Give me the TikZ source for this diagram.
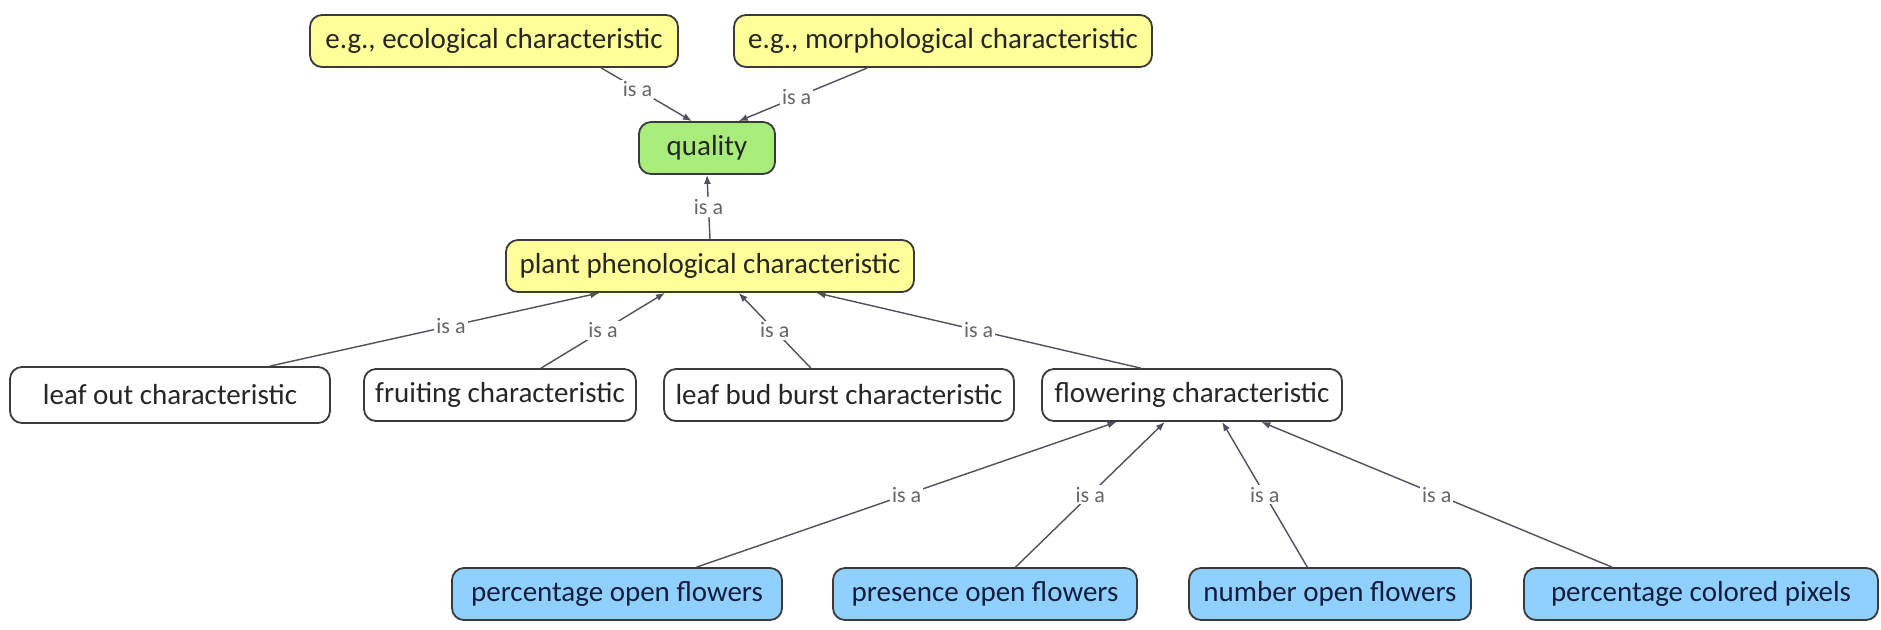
\documentclass[tikz,border=0pt]{standalone}
\usepackage{fontspec}
\setmainfont{Carlito}
\usetikzlibrary{calc,arrows.meta}
\definecolor{ylw}{HTML}{FFFF9A}
\definecolor{grn}{HTML}{A8EC7C}
\definecolor{blu}{HTML}{8FD0FF}
\definecolor{edgec}{HTML}{50505E}
\definecolor{bord}{HTML}{3A3A3A}
\tikzset{
  concept/.style={draw=bord, line width=0.9pt, rounded corners=6pt, minimum height=26pt, inner sep=2pt,
    font=\fontsize{14.5}{16}\selectfont, text=black!85},
  yel/.style={concept, fill=ylw},
  gre/.style={concept, fill=grn},
  wht/.style={concept, fill=white},
  blue/.style={concept, fill=blu, text={rgb,255:red,20;green,30;blue,60}},
  isa/.style={draw=edgec, line width=0.7pt, -{Latex[length=4.5pt,width=3.5pt]}},
  lbl/.style={fill=white, inner sep=1pt, text=black!60, font=\fontsize{11}{12}\selectfont}
}
\begin{document}
\begin{tikzpicture}[x=0.5pt,y=-0.5pt]
\useasboundingbox[fill=white] (0,0) rectangle (1881,629);
% top level
\node[yel, minimum width=184pt] (eco) at (494,41) {e.g., ecological characteristic};
\node[yel, minimum width=209pt] (mor) at (943,41) {e.g., morphological characteristic};
\node[gre, minimum width=68pt] (qua) at (707,148) {quality};
\node[yel, minimum width=204pt] (pla) at (710,266) {plant phenological characteristic};
% middle
\node[wht, minimum width=160pt, minimum height=28pt] (lea) at (170,395) {leaf out characteristic};
\node[wht, minimum width=136pt] (fru) at (500,395) {fruiting characteristic};
\node[wht, minimum width=175pt] (bud) at (839,395) {leaf bud burst characteristic};
\node[wht, minimum width=150pt] (flo) at (1192,395) {flowering characteristic};
% bottom
\node[blue, minimum width=165pt] (pof) at (617,594) {percentage open flowers};
\node[blue, minimum width=152pt] (pre) at (985,594) {presence open flowers};
\node[blue, minimum width=141pt] (num) at (1330,594) {number open flowers};
\node[blue, minimum width=177pt] (pcp) at (1701,594) {percentage colored pixels};
% edges
\draw[isa] ($(eco.south west)!0.79!(eco.south east)$) -- node[lbl, pos=0.4]{is a} ($(qua.north west)!0.39!(qua.north east)$);
\draw[isa] ($(mor.south west)!0.32!(mor.south east)$) -- node[lbl, pos=0.55]{is a} ($(qua.north west)!0.73!(qua.north east)$);
\draw[isa] (pla.north) -- node[lbl]{is a} (qua.south);
\draw[isa] ($(lea.north west)!0.81!(lea.north east)$) -- node[lbl, pos=0.55]{is a} ($(pla.south west)!0.23!(pla.south east)$);
\draw[isa] ($(fru.north west)!0.65!(fru.north east)$) -- node[lbl]{is a} ($(pla.south west)!0.39!(pla.south east)$);
\draw[isa] ($(bud.north west)!0.42!(bud.north east)$) -- node[lbl]{is a} ($(pla.south west)!0.57!(pla.south east)$);
\draw[isa] ($(flo.north west)!0.33!(flo.north east)$) -- node[lbl]{is a} ($(pla.south west)!0.76!(pla.south east)$);
\draw[isa] ($(pof.north west)!0.74!(pof.north east)$) -- node[lbl]{is a} ($(flo.south west)!0.25!(flo.south east)$);
\draw[isa] ($(pre.north west)!0.60!(pre.north east)$) -- node[lbl]{is a} ($(flo.south west)!0.41!(flo.south east)$);
\draw[isa] ($(num.north west)!0.42!(num.north east)$) -- node[lbl]{is a} ($(flo.south west)!0.60!(flo.south east)$);
\draw[isa] ($(pcp.north west)!0.25!(pcp.north east)$) -- node[lbl]{is a} ($(flo.south west)!0.73!(flo.south east)$);
\end{tikzpicture}
\end{document}
